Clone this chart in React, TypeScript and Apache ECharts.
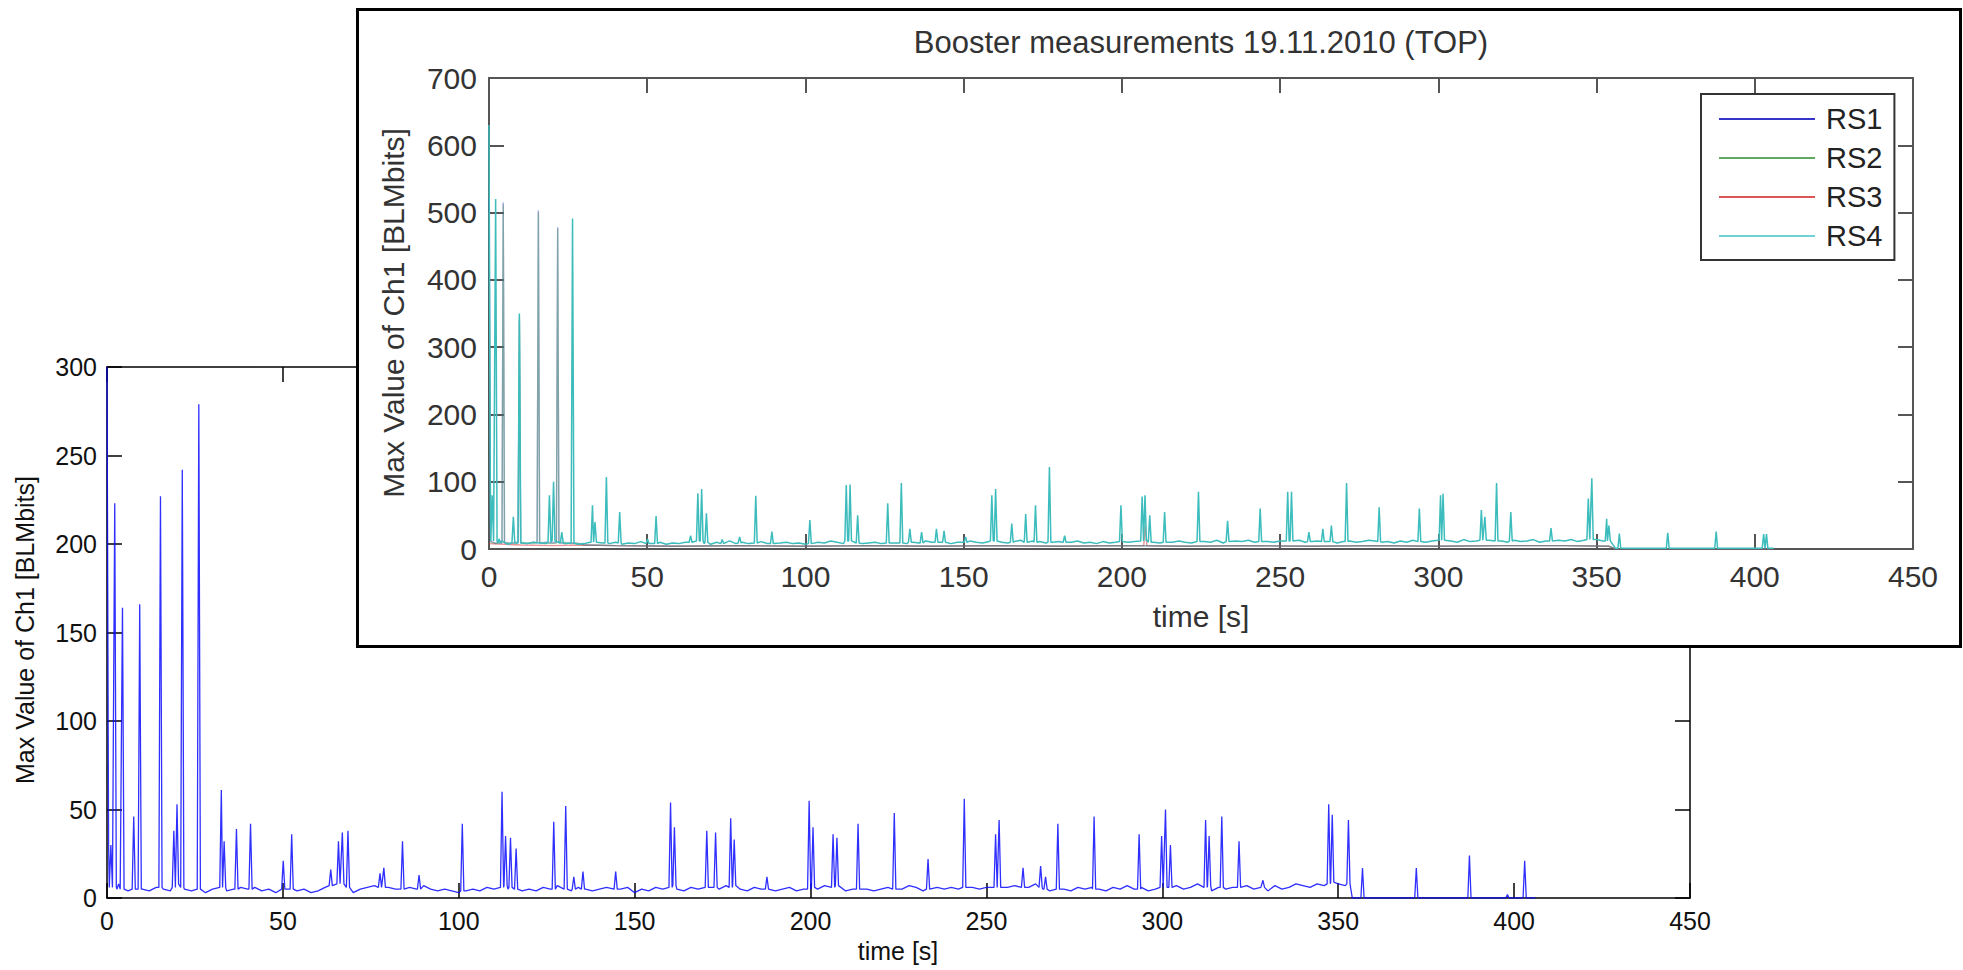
import React, { useEffect, useRef } from "react";
import * as echarts from "echarts";

const FONT = "'Liberation Sans', Arial, Helvetica, sans-serif";

// ---------- back chart (single channel) ----------
const NAME_Y = "Max Value of Ch1 [BLMbits]";
const NAME_X = "time [s]";
const BACK_X_RANGE = [0, 450, 50];
const BACK_Y_RANGE = [0, 300, 50];
const BACK_STEP = 2; // seconds between baseline samples
const BACK_BASELINE = [
  6, 5, 7, 4, 6, 5, 4, 6, 5, 4,
  7, 5, 4, 6, 3, 5, 6, 4, 5, 6,
  5, 6, 4, 5, 3, 4, 6, 4, 5, 3,
  4, 6, 8, 5, 4, 3, 5, 6, 7, 5,
  6, 5, 4, 6, 5, 7, 5, 4, 5, 4,
  3, 4, 5, 4, 6, 5, 4, 5, 6, 4,
  5, 4, 6, 5, 7, 5, 4, 6, 5, 4,
  5, 6, 4, 5, 6, 3, 5, 4, 6, 5,
  6, 5, 4, 6, 5, 7, 6, 5, 7, 6,
  5, 4, 6, 5, 6, 4, 5, 6, 4, 5,
  6, 5, 7, 5, 6, 4, 5, 6, 5, 4,
  5, 6, 4, 5, 7, 6, 4, 5, 6, 5,
  6, 5, 7, 6, 5, 6, 4, 5, 6, 7,
  5, 6, 8, 5, 4, 6, 5, 4, 6, 5,
  6, 5, 4, 6, 5, 7, 5, 6, 4, 5,
  6, 5, 7, 5, 6, 8, 5, 4, 6, 5,
  6, 5, 7, 5, 6, 4, 7, 5, 6, 8,
  7, 6, 8, 7, 9, 8, 7,
  0, 0, 0, 0, 0, 0, 0, 0, 0, 0, 0, 0, 0, 0, 0, 0, 0, 0, 0, 0, 0, 0, 0, 0, 0, 0, 0,
];
// [time, peak, level on both sides of the peak]
const BACK_SPIKES: [number, number, number][] = [
  [0, 300, 30], [1.1, 30, 6], [2.2, 223, 6], [3.3, 8, 5], [4.4, 164, 5], [7.6, 46, 5], [9.3, 166, 5],
  [15.2, 227, 6], [19, 38, 6], [19.9, 53, 8], [21.4, 242, 6], [26.1, 279, 5], [32.5, 61, 6],
  [33.3, 32, 6], [36.8, 39, 5], [40.8, 42, 5], [50.1, 21, 5], [52.5, 36, 5], [63.6, 16, 7],
  [65.8, 32, 8], [66.9, 37, 8], [68.5, 38, 6], [77.6, 14, 6], [78.7, 17, 6], [84, 32, 5],
  [88.7, 13, 5], [101, 42, 4], [112.3, 60, 6], [113.3, 35, 7], [114.7, 34, 6], [116.3, 28, 5],
  [127, 43, 5], [130.4, 52, 5], [132.7, 12, 5], [135.3, 15, 5], [144.6, 15, 5], [160.2, 54, 6],
  [161.3, 40, 7], [170.5, 38, 6], [173, 37, 6], [177.3, 45, 6], [178.3, 33, 7], [187.6, 12, 5],
  [199.6, 55, 5], [200.7, 40, 6], [206.4, 36, 6], [207.5, 34, 7], [213.5, 42, 5], [223.8, 48, 5],
  [233.4, 22, 5], [243.7, 56, 6], [252.6, 36, 6], [253.6, 44, 6], [260.4, 17, 6], [265.4, 18, 6],
  [266.8, 12, 5], [270.3, 42, 5], [280.6, 46, 5], [293.4, 36, 5], [299.8, 35, 6], [300.9, 50, 6],
  [302.3, 30, 6], [312.3, 44, 6], [313.3, 35, 7], [316.9, 46, 6], [321.8, 32, 6], [328.6, 10, 6],
  [347.3, 53, 8], [348.3, 47, 9], [352.9, 44, 8], [356.9, 17, 0], [372.2, 17, 0], [387.3, 24, 0],
  [398.1, 2, 0], [403, 21, 0],
];

// ---------- inset chart (four monitors) ----------
const INSET_TITLE = "Booster measurements 19.11.2010 (TOP)";
const INSET_X_RANGE = [0, 450, 50];
const INSET_Y_RANGE = [0, 700, 100];
const SERIES_NAMES = ["RS1", "RS2", "RS3", "RS4"];
const RS4_STEP = 2;
const RS4_BASELINE = [
  10, 8, 12, 7, 9, 11, 8, 10, 9, 8,
  12, 10, 8, 9, 7, 8, 10, 12, 9, 8,
  10, 7, 9, 8, 11, 6, 8, 10, 7, 9,
  8, 10, 12, 9, 8, 7, 10, 9, 12, 8,
  10, 8, 9, 11, 8, 7, 9, 10, 8, 9,
  7, 8, 10, 9, 12, 10, 8, 9, 11, 8,
  9, 10, 8, 12, 9, 11, 8, 10, 9, 12,
  10, 9, 11, 8, 10, 9, 12, 10, 9, 11,
  12, 10, 9, 11, 13, 10, 12, 11, 9, 10,
  11, 9, 10, 12, 9, 10, 8, 11, 9, 10,
  12, 10, 11, 9, 13, 10, 9, 11, 10, 12,
  10, 9, 12, 11, 10, 13, 9, 10, 12, 11,
  13, 10, 12, 11, 10, 12, 9, 11, 13, 10,
  11, 12, 10, 13, 9, 11, 12, 10, 11, 13,
  12, 10, 11, 9, 12, 10, 13, 11, 10, 12,
  13, 11, 12, 10, 14, 11, 12, 10, 13, 11,
  12, 10, 13, 11, 12, 14, 10, 12, 11, 13,
  12, 14, 11, 13, 12, 14, 12,
  2, 1, 1, 1, 1, 1, 1, 1, 1, 1, 1, 1, 1, 1, 1, 1, 1, 1, 1, 1, 1, 1, 1, 1, 1, 1, 1,
];
// [time, peak, level on both sides of the peak]
const RS4_SPIKES: [number, number, number][] = [
  [0, 630, 60], [1, 80, 12], [2.1, 520, 12], [3.2, 15, 9], [7.7, 48, 9], [9.6, 350, 9],
  [19.1, 80, 10], [20.4, 100, 12], [23, 25, 9], [26.4, 491, 9], [32.7, 65, 10], [33.5, 40, 10],
  [37.1, 107, 9], [41.3, 55, 9], [50.1, 15, 8], [52.8, 49, 8], [63.7, 20, 10], [66, 83, 12],
  [67.2, 89, 12], [68.7, 53, 10], [73.7, 14, 8], [79.2, 18, 9], [84.3, 79, 9], [89.4, 26, 8],
  [101.4, 43, 8], [112.9, 95, 12], [114.1, 96, 12], [116.5, 50, 9], [126, 68, 9], [130.3, 98, 9],
  [133, 30, 10], [136.7, 25, 9], [141.4, 30, 10], [143.8, 27, 10], [150.6, 18, 10],
  [158.9, 80, 12], [160.1, 89, 12], [165.2, 38, 10], [169.6, 52, 10], [172.7, 65, 10],
  [177.1, 122, 10], [181.9, 20, 10], [199.7, 65, 11], [206.4, 78, 12], [207.3, 80, 12],
  [208.8, 50, 10], [213.5, 55, 10], [224.2, 85, 11], [233.4, 42, 11], [243.7, 60, 11],
  [252.4, 85, 12], [253.6, 85, 12], [259.1, 25, 11], [263.5, 30, 11], [266.2, 35, 11],
  [271, 98, 11], [281.3, 62, 11], [294, 60, 11], [300.7, 80, 13], [301.5, 82, 13], [313.6, 58, 13],
  [314.7, 48, 13], [318.4, 98, 12], [322.9, 55, 12], [335.6, 31, 12], [347.4, 75, 14],
  [348.5, 105, 14], [353.2, 45, 12], [353.9, 35, 12], [357.2, 23, 1], [372.5, 24, 1],
  [387.8, 26, 1], [402.8, 22, 1], [403.7, 22, 1],
];
const RS1_POINTS: [number, number][] = [
  [0, 520], [0.5, 12], [2, 8], [3, 10], [4.1, 9], [4.5, 515], [4.9, 9], [7, 8], [8.5, 10], [9.2, 9],
  [9.6, 340], [10, 9], [12, 8], [14, 10], [15.2, 9], [15.6, 503], [16, 8], [18, 10], [20, 9],
  [21.3, 10], [21.7, 478], [22.1, 10], [24, 8], [26, 9], [28, 8], [30, 6], [40, 5], [60, 4], [80, 5],
  [100, 4], [120, 5], [140, 4], [160, 5], [180, 4], [200, 5], [220, 4], [240, 5], [260, 4],
  [280, 5], [300, 4], [320, 5], [340, 5], [354, 4], [356, 0], [406, 0],
];
const RS2_POINTS: [number, number][] = [
  [0, 500], [0.5, 10], [2, 9], [3, 8], [4.1, 10], [4.5, 512], [4.9, 10], [7, 9], [8.5, 8], [9.2, 10],
  [9.6, 345], [10, 10], [12, 9], [14, 8], [15.2, 10], [15.6, 500], [16, 10], [18, 9], [20, 8],
  [21.3, 9], [21.7, 476], [22.1, 9], [24, 10], [26, 8], [28, 9], [30, 6], [40, 5], [60, 4], [80, 5],
  [100, 4], [120, 5], [140, 4], [160, 5], [180, 4], [200, 5], [220, 4], [240, 5], [260, 4],
  [280, 5], [300, 4], [320, 5], [340, 5], [354, 4], [356, 0], [406, 0],
];
const RS3_POINTS: [number, number][] = [
  [0, 8], [10, 6], [20, 5], [30, 6], [40, 5], [60, 4], [80, 5], [100, 4], [120, 5], [140, 4],
  [160, 5], [180, 4], [200, 5], [206.9, 5], [207.4, 35], [207.9, 5], [220, 4], [240, 5], [260, 4],
  [280, 5], [300, 4], [320, 5], [340, 5], [354, 4], [356, 0], [406, 0],
];
const SERIES_COLORS = ["#3434c8", "#56a35a", "#dd4b4b", "#3cbcbc"];
const LEGEND_COLORS = ["#3434c8", "#5fa863", "#dd5555", "#6fd3d6"];
const SERIES_OPACITY = [0.45, 0.45, 0.6, 1];

const HALF_WIDTH = 0.45; // half width of a spike, in seconds

function merge(base: number[], step: number, spikes: [number, number, number][]): [number, number][] {
  const pts: [number, number][] = [];
  base.forEach((v, i) => {
    const t = i * step;
    if (!spikes.some((s) => Math.abs(s[0] - t) < 0.6)) pts.push([t, v]);
  });
  spikes.forEach((s) => {
    if (s[0] - HALF_WIDTH >= 0) pts.push([s[0] - HALF_WIDTH, s[2]]);
    pts.push([s[0], s[1]]);
    pts.push([s[0] + HALF_WIDTH, s[2]]);
  });
  pts.sort((a, b) => a[0] - b[0]);
  return pts;
}

function axisPair(
  dim: "x" | "y",
  range: number[],
  color: string,
  width: number,
  font: number,
  labelColor: string,
  margin: number
) {
  const common = {
    type: "value",
    min: range[0],
    max: range[1],
    interval: range[2],
    splitLine: { show: false },
    axisLine: { show: true, onZero: false, lineStyle: { color, width } },
    axisTick: { show: true, inside: true, length: 15, lineStyle: { color, width } },
  };
  return [
    {
      ...common,
      position: dim === "x" ? "bottom" : "left",
      axisLabel: {
        show: true,
        color: labelColor,
        fontSize: font,
        fontFamily: FONT,
        margin,
        showMinLabel: true,
        showMaxLabel: true,
      },
    },
    {
      ...common,
      position: dim === "x" ? "top" : "right",
      axisLabel: { show: false },
    },
  ];
}

export default function App() {
  const backRef = useRef<HTMLDivElement>(null);
  const insetRef = useRef<HTMLDivElement>(null);

  useEffect(() => {
    if (!backRef.current || !insetRef.current) return;
    const back = echarts.init(backRef.current, null, { renderer: "svg" });
    const inset = echarts.init(insetRef.current, null, { renderer: "svg" });

    back.setOption({
      animation: false,
      backgroundColor: "#fff",
      grid: { left: 107, top: 367, width: 1583, height: 531, containLabel: false, outerBoundsMode: "none" },
      xAxis: axisPair("x", BACK_X_RANGE, "#000", 1.5, 25, "#111", 10),
      yAxis: axisPair("y", BACK_Y_RANGE, "#000", 1.5, 25, "#111", 10),
      series: [
        {
          type: "line",
          data: merge(BACK_BASELINE, BACK_STEP, BACK_SPIKES),
          symbol: "none",
          showSymbol: false,
          lineStyle: { color: "#0a0aff", width: 1.3, opacity: 0.85 },
          xAxisIndex: 0,
          yAxisIndex: 0,
        },
      ],
      graphic: [
        {
          type: "text",
          x: 25,
          y: 630,
          rotation: Math.PI / 2,
          style: { text: NAME_Y, fontSize: 25, fontFamily: FONT, fill: "#111", align: "center", verticalAlign: "middle" },
        },
        {
          type: "text",
          x: 898,
          y: 951,
          style: { text: NAME_X, fontSize: 25, fontFamily: FONT, fill: "#111", align: "center", verticalAlign: "middle" },
        },
      ],
    });

    const pointSets = [RS1_POINTS, RS2_POINTS, RS3_POINTS, merge(RS4_BASELINE, RS4_STEP, RS4_SPIKES)];
    const zOrder = [3, 4, 2, 5];
    inset.setOption({
      animation: false,
      backgroundColor: "#fff",
      grid: { left: 130, top: 67, width: 1424, height: 471, containLabel: false, outerBoundsMode: "none" },
      xAxis: axisPair("x", INSET_X_RANGE, "#555", 2, 30, "#333", 12),
      yAxis: axisPair("y", INSET_Y_RANGE, "#555", 2, 30, "#333", 12),
      legend: {
        orient: "vertical",
        left: 1342,
        top: 83,
        padding: [10, 12, 9, 18],
        itemWidth: 96,
        itemHeight: 2,
        itemGap: 9,
        borderColor: "#333",
        borderWidth: 2,
        borderRadius: 0,
        backgroundColor: "#fff",
        selectedMode: false,
        icon: "rect",
        textStyle: { fontSize: 29, fontFamily: FONT, color: "#222", lineHeight: 30, padding: [0, 0, 0, 6] },
        data: SERIES_NAMES.map((n, i) => ({
          name: n,
          icon: "rect",
          itemStyle: { color: LEGEND_COLORS[i], opacity: 1 },
        })),
      },
      series: SERIES_NAMES.map((n, i) => ({
        name: n,
        type: "line",
        data: pointSets[i],
        symbol: "none",
        showSymbol: false,
        xAxisIndex: 0,
        yAxisIndex: 0,
        z: zOrder[i],
        lineStyle: {
          color: SERIES_COLORS[i],
          width: i === 3 ? 1.5 : 1.4,
          opacity: SERIES_OPACITY[i],
        },
        itemStyle: { color: LEGEND_COLORS[i] },
      })),
      graphic: [
        {
          type: "text",
          x: 842,
          y: 31,
          style: { text: INSET_TITLE, fontSize: 31, fontFamily: FONT, fill: "#333", align: "center", verticalAlign: "middle" },
        },
        {
          type: "text",
          x: 34,
          y: 302,
          rotation: Math.PI / 2,
          style: { text: NAME_Y, fontSize: 30, fontFamily: FONT, fill: "#333", align: "center", verticalAlign: "middle" },
        },
        {
          type: "text",
          x: 842,
          y: 605,
          style: { text: NAME_X, fontSize: 30, fontFamily: FONT, fill: "#333", align: "center", verticalAlign: "middle" },
        },
      ],
    });

    return () => {
      back.dispose();
      inset.dispose();
    };
  }, []);

  return (
    <div style={{ position: "fixed", left: 0, top: 0, width: 1963, height: 970, background: "#fff", overflow: "hidden" }}>
      <div ref={backRef} style={{ position: "absolute", left: 0, top: 0, width: 1963, height: 970 }} />
      <div
        style={{
          position: "absolute",
          left: 356,
          top: 8,
          width: 1600,
          height: 634,
          border: "3px solid #000",
          background: "#fff",
        }}
      >
        <div ref={insetRef} style={{ width: 1600, height: 634 }} />
      </div>
    </div>
  );
}
